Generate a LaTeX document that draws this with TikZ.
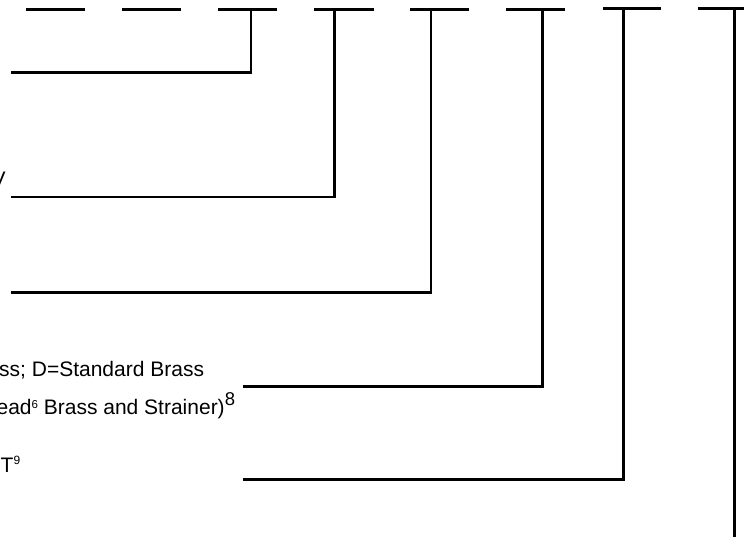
\documentclass[tikz,border=0pt]{standalone}
\usepackage{fontspec}
\setmainfont{Liberation Sans}
\begin{document}
\begin{tikzpicture}[x=1bp,y=-1bp,
  rule/.style={line width=2.6bp},
  lbl/.style={anchor=base west, inner sep=0pt, font=\fontsize{21bp}{25bp}\selectfont}]
\useasboundingbox (0,0) rectangle (744,538);
\clip (0,0) rectangle (744,538);
% code slots along the top
\foreach \n/\a/\b/\y in {1/26/85/9.5, 2/122/181/9.5, 3/218/277/9.5, 4/314/374/9.5,
                         5/410/469/9.5, 6/506/565/9.5, 7/603/661/8.7, 8/698/746/8.7}
  \draw[rule] (\a,\y) coordinate (s\n l) -- (\b,\y) coordinate (s\n r);
% tap points on the slots
\coordinate (t3) at (251,9.5);
\coordinate (t4) at (334.3,9.5);
\coordinate (t5) at (431,9.5);
\coordinate (t6) at (542.7,9.5);
\coordinate (t7) at (623.7,8.7);
\coordinate (t8) at (734.7,8.7);
% free ends of the leader lines
\coordinate (e3) at (11,72.7);
\coordinate (e4) at (11,197);
\coordinate (e5) at (11,292.7);
\coordinate (e6) at (243,386.7);
\coordinate (e7) at (243,479.7);
\coordinate (e8) at (734.7,537);
% leader lines
\draw[rule] (t3) |- (e3);
\draw[rule] (t4) |- (e4);
\draw[rule] (t5) |- (e5);
\draw[rule] (t6) |- (e6);
\draw[rule] (t7) |- (e7);
\draw[rule] (t8) -- (e8);
% texts (cut off at the left edge)
\node[lbl] (v) at (-8.6,187) {V};
\node[lbl] (d) at (-1,376.5) {ss; D=Standard Brass};
\node[lbl] (s) at (-3.6,414.5) {ead\raisebox{6bp}{\fontsize{11.5bp}{13bp}\selectfont 6} Brass and Strainer)\raisebox{9.5bp}{\fontsize{18.5bp}{20bp}\selectfont 8}};
\node[lbl] (t) at (0.5,472) {T\raisebox{8bp}{\fontsize{12bp}{14bp}\selectfont 9}};
\end{tikzpicture}
\end{document}
